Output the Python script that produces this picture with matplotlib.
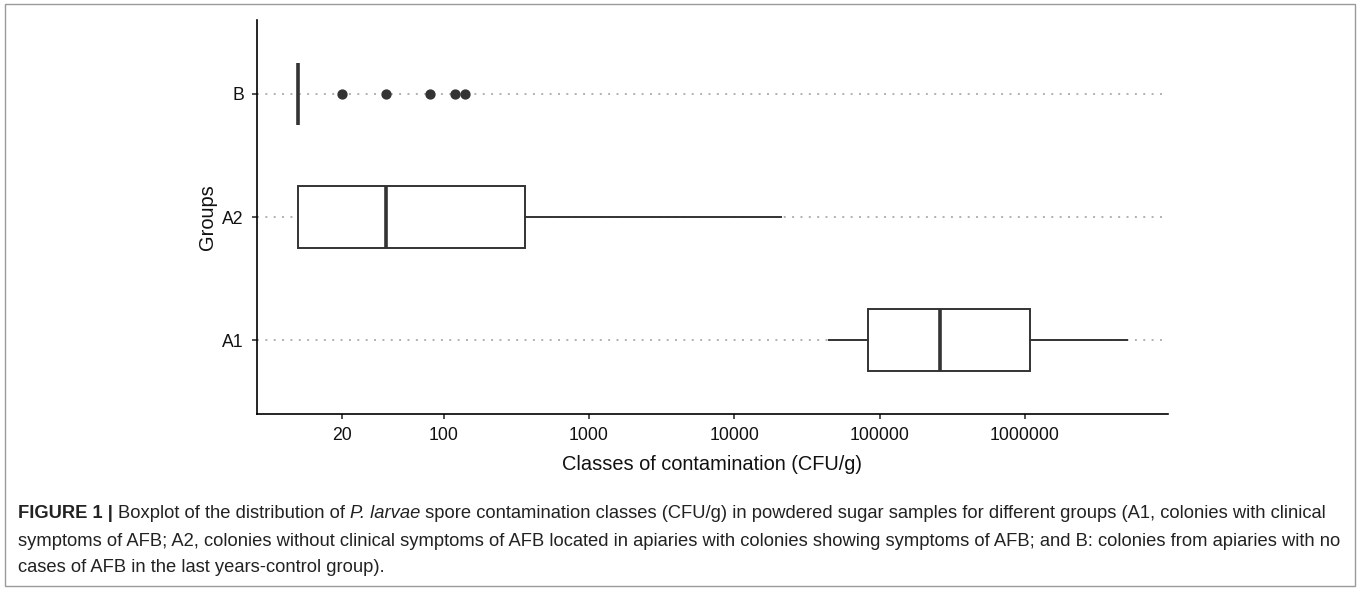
import matplotlib
matplotlib.use("Agg")
import matplotlib.pyplot as plt
from matplotlib.patches import Rectangle

# boxplot summary per group (bottom to top)
groups = ["A1", "A2", "B"]
whisker_low = [45000, 10, 10]
q1 = [83000, 10, 10]
medians = [260000, 40, 10]
q3 = [1080000, 360, 10]
whisker_high = [5000000, 21000, 10]
outliers = [[], [], [20, 40, 80, 120, 140]]
x_ticks = [20, 100, 1000, 10000, 100000, 1000000]

caption_lines = [
    [("FIGURE 1 | ", "bold", "normal"),
     ("Boxplot of the distribution of ", "normal", "normal"),
     ("P. larvae", "normal", "italic"),
     (" spore contamination classes (CFU/g) in powdered sugar samples for different groups (A1, colonies with clinical",
      "normal", "normal")],
    [("symptoms of AFB; A2, colonies without clinical symptoms of AFB located in apiaries with colonies showing symptoms of AFB; and B: colonies from apiaries with no",
      "normal", "normal")],
    [("cases of AFB in the last years-control group).", "normal", "normal")],
]

W, H = 1360, 592
plt.rcParams["font.family"] = ["Liberation Sans", "DejaVu Sans"]

fig = plt.figure(figsize=(W / 100, H / 100), dpi=100)
ax = fig.add_axes([257 / W, 1 - 414 / H, (1168 - 257) / W, (414 - 20) / H])

stats = []
for i in range(len(groups)):
    stats.append({"whislo": whisker_low[i], "q1": q1[i], "med": medians[i], "q3": q3[i],
                  "whishi": whisker_high[i], "fliers": outliers[i], "label": groups[i]})

edge = "#333333"
ax.bxp(stats, positions=range(1, len(groups) + 1), orientation="horizontal", widths=0.5,
       patch_artist=True, showcaps=False,
       boxprops=dict(facecolor="white", edgecolor=edge, linewidth=1.4),
       medianprops=dict(color=edge, linewidth=2.6),
       whiskerprops=dict(color=edge, linewidth=1.4),
       flierprops=dict(marker="o", markerfacecolor=edge, markeredgecolor=edge, markersize=6.4))

ax.set_xscale("log")
lo = min(whisker_low)
hi = max(whisker_high)
span = (hi / lo) ** 0.05
ax.set_xlim(lo / span, hi * span)
ax.set_ylim(0.4, len(groups) + 0.6)
ax.set_xticks(x_ticks)
ax.set_xticklabels([str(t) for t in x_ticks])
ax.xaxis.set_minor_locator(matplotlib.ticker.NullLocator())
ax.set_yticks(range(1, len(groups) + 1))
ax.set_yticklabels(groups)

ax.set_axisbelow(True)
ax.yaxis.grid(True, color="#b0b0b0", linewidth=1.4, linestyle=(0, (1, 3.3)))
for s in ["top", "right"]:
    ax.spines[s].set_visible(False)
for s in ["left", "bottom"]:
    ax.spines[s].set_linewidth(1.2)
    ax.spines[s].set_color("black")
ax.tick_params(length=3.5, width=1.2, color=edge, labelsize=12.7, labelcolor="#111111", pad=6)
ax.set_xlabel("Classes of contamination (CFU/g)", fontsize=14.4, color="#111111", labelpad=8)
ax.set_ylabel("Groups", fontsize=14.4, color="#111111", labelpad=4)

# frame around the whole figure
fig.patches.append(Rectangle((5 / W, 6 / H), (W - 10) / W, (H - 10) / H, transform=fig.transFigure,
                             fill=False, edgecolor="#9a9a9a", linewidth=1.0))

# caption with mixed styles
cap_font = ["Liberation Sans Narrow", "Liberation Sans", "DejaVu Sans"]
renderer = fig.canvas.get_renderer()
line_y = [514, 541, 567]
for line, y in zip(caption_lines, line_y):
    x = 18
    for text, weight, style in line:
        t = fig.text(x / W, 1 - y / H, text, family=cap_font, fontsize=13.2, fontweight=weight,
                     fontstyle=style, color="#222222", va="center", ha="left")
        bb = t.get_window_extent(renderer)
        x += bb.width

fig.savefig("out.png", dpi=100)
